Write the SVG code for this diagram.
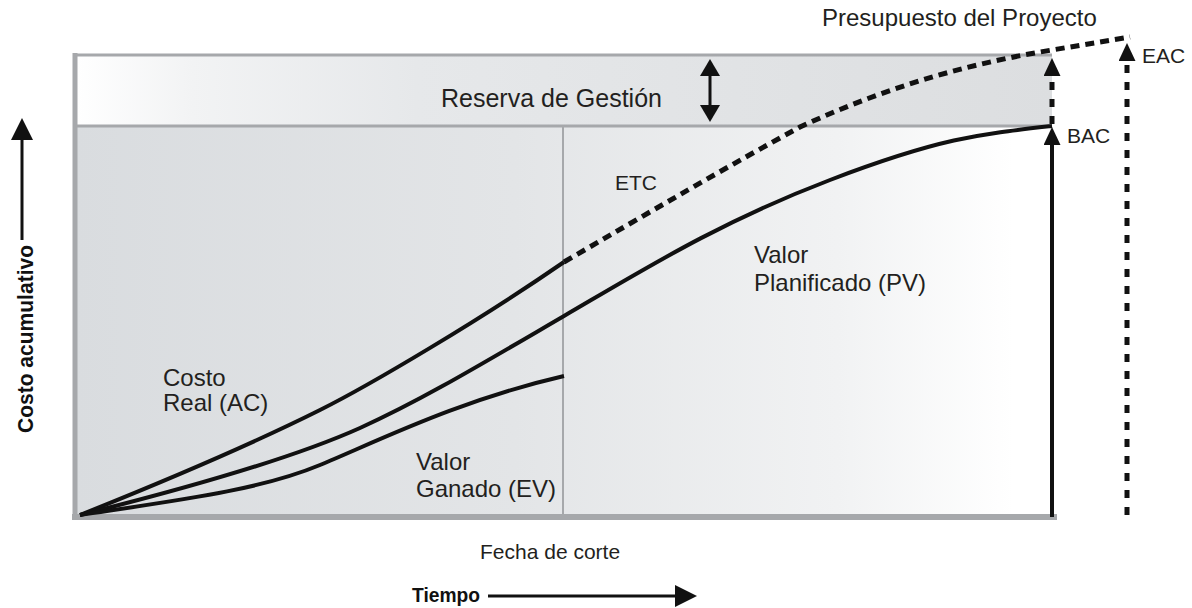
<svg xmlns="http://www.w3.org/2000/svg" width="1192" height="608" viewBox="0 0 1192 608">
  <defs>
    <linearGradient id="bandGrad" x1="0" y1="0" x2="1" y2="0">
      <stop offset="0" stop-color="#ffffff"/>
      <stop offset="0.12" stop-color="#f2f3f4"/>
      <stop offset="0.35" stop-color="#e6e8ea"/>
      <stop offset="1" stop-color="#dcdee0"/>
    </linearGradient>
    <linearGradient id="mainGrad" x1="0" y1="0" x2="1" y2="0">
      <stop offset="0" stop-color="#d9dcdf"/>
      <stop offset="0.45" stop-color="#e3e5e7"/>
      <stop offset="0.78" stop-color="#f1f2f3"/>
      <stop offset="0.96" stop-color="#ffffff"/>
    </linearGradient>
    <marker id="ah" viewBox="0 0 18 17" refX="12" refY="8.5" markerWidth="18" markerHeight="17" markerUnits="userSpaceOnUse" orient="auto-start-reverse">
      <path d="M0,0 L18,8.5 L0,17 z" fill="#111"/>
    </marker>
    <marker id="ahDbl" viewBox="0 0 17 20" refX="11" refY="10" markerWidth="17" markerHeight="20" markerUnits="userSpaceOnUse" orient="auto-start-reverse">
      <path d="M0,0 L17,10 L0,20 z" fill="#111"/>
    </marker>
    <marker id="ahBig" viewBox="0 0 22 22" refX="14" refY="11" markerWidth="22" markerHeight="22" markerUnits="userSpaceOnUse" orient="auto">
      <path d="M0,0 L22,11 L0,22 z" fill="#111"/>
    </marker>
  </defs>
  <style>
    .lbl { font-family: "Liberation Sans", Arial, sans-serif; fill: #231f20; }
    .axis { font-family: "Liberation Sans Narrow", "Liberation Sans", Arial, sans-serif; font-weight: bold; fill: #111; }
    .frame { stroke: #a6a8ab; fill: none; }
    .curve { stroke: #111; stroke-width: 4; fill: none; stroke-linejoin: round; }
    .dash { stroke: #111; stroke-width: 5; fill: none; stroke-dasharray: 9 6; }
    .vdash { stroke: #111; stroke-width: 5; fill: none; stroke-dasharray: 8 9; }
    .arrow { stroke: #111; fill: none; }
  </style>

  <g id="chart-area">
    <rect x="75" y="55" width="977" height="71" fill="url(#bandGrad)"/>
    <rect x="75" y="126" width="977" height="391" fill="url(#mainGrad)"/>
    <line class="frame" x1="75" y1="55" x2="1052" y2="55" stroke-width="3"/>
    <line class="frame" x1="75" y1="126" x2="1052" y2="126" stroke-width="3"/>
    <line class="frame" x1="563" y1="126" x2="563" y2="515" stroke-width="2"/>
    <line class="frame" x1="75" y1="53" x2="75" y2="520" stroke-width="5"/>
    <line class="frame" x1="72" y1="517" x2="1057" y2="517" stroke-width="6"/>
  </g>

  <g id="connectors">
    <path id="ac" class="curve" d="M80,515 C180,475 270,435 320,410 S480,320 564,262"/>
    <path id="pv" class="curve" d="M80,515 C200,485 300,455 360,428 S480,365 564,316 S720,222 830,180 S980,134 1052,126"/>
    <path id="ev" class="curve" d="M80,515 C180,500 260,490 320,465 S460,400 564,376"/>
    <path id="etc" class="dash" d="M564,262 C650,212 730,165 800,127 C880,90 960,65 1052,50 L1130,37"/>
    <line id="bac-arrow" class="arrow" x1="1052" y1="517" x2="1052" y2="133" stroke-width="4" marker-end="url(#ah)"/>
    <line id="reserve-arrow" class="vdash" x1="1052" y1="124" x2="1052" y2="64" marker-end="url(#ah)"/>
    <line id="eac-arrow" class="vdash" x1="1127" y1="515" x2="1127" y2="49" marker-end="url(#ah)"/>
    <line id="reserve-height" class="arrow" x1="710" y1="65" x2="710" y2="116" stroke-width="3" marker-start="url(#ahDbl)" marker-end="url(#ahDbl)"/>
    <line id="y-axis-arrow" class="arrow" x1="22" y1="240" x2="22" y2="126" stroke-width="3" marker-end="url(#ahBig)"/>
    <line id="x-axis-arrow" class="arrow" x1="488" y1="596" x2="689" y2="596" stroke-width="3" marker-end="url(#ahBig)"/>
  </g>

  <g id="label-presupuesto"><text class="lbl" x="822" y="26" font-size="24">Presupuesto del Proyecto</text></g>
  <g id="label-reserva"><text class="lbl" x="441" y="107" font-size="25">Reserva de Gestión</text></g>
  <g id="label-etc"><text class="lbl" x="615" y="190" font-size="21">ETC</text></g>
  <g id="label-pv"><text class="lbl" x="754" y="263" font-size="24">Valor<tspan x="754" y="291">Planificado (PV)</tspan></text></g>
  <g id="label-ac"><text class="lbl" x="163" y="386" font-size="24">Costo<tspan x="163" y="411">Real (AC)</tspan></text></g>
  <g id="label-ev"><text class="lbl" x="416" y="470" font-size="24">Valor<tspan x="416" y="497">Ganado (EV)</tspan></text></g>
  <g id="label-bac"><text class="lbl" x="1067" y="143" font-size="21">BAC</text></g>
  <g id="label-eac"><text class="lbl" x="1142" y="63" font-size="21">EAC</text></g>
  <g id="label-fecha"><text class="lbl" x="480" y="559" font-size="21">Fecha de corte</text></g>
  <g id="label-tiempo"><text class="axis" x="412" y="602" font-size="21" textLength="68" lengthAdjust="spacingAndGlyphs">Tiempo</text></g>
  <g id="label-costo"><text class="axis" transform="translate(33,339) rotate(-90)" text-anchor="middle" font-size="22" textLength="188" lengthAdjust="spacingAndGlyphs">Costo acumulativo</text></g>
</svg>
